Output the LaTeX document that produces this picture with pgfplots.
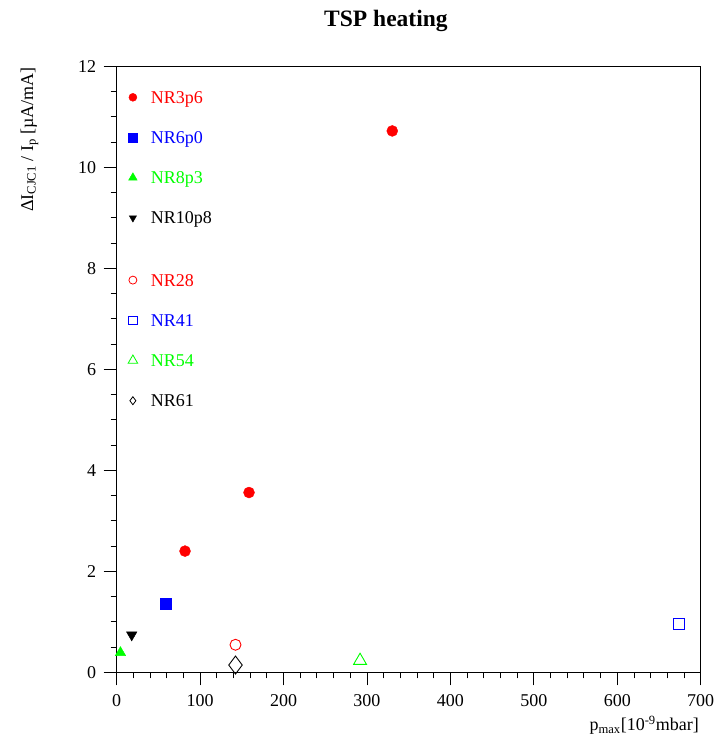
\documentclass[border=0pt]{standalone}
\usepackage{fontspec}
\setmainfont{Liberation Serif}
\usepackage{pgfplots}
\pgfplotsset{compat=1.18}
\definecolor{cred}{RGB}{255,0,0}
\definecolor{cblue}{RGB}{0,0,255}
\definecolor{cgreen}{RGB}{0,255,0}
\newcommand{\fs}{\fontsize{18bp}{21bp}\selectfont}
\pgfplotsset{lgimg/.style={legend image code/.code={\path[draw=none,fill=none] (0bp,-5bp) rectangle (25bp,5bp); \draw[##1] plot coordinates {(9bp,0bp)};}}}
\begin{document}
\begin{tikzpicture}
\path (-116.7bp,-65.7bp) rectangle (599.3bp,672.3bp);
\begin{axis}[
  at={(0,0)}, anchor=south west,
  scale only axis, width=584bp, height=606bp,
  xmin=0, xmax=700, ymin=0, ymax=12,
  xtick={0,100,...,700}, ytick={0,2,...,12},
  minor x tick num=4, minor y tick num=3,
  tick pos=left, tick align=outside,
  major tick length=13bp, minor tick length=6bp,
  every tick/.style={black, line width=0.9bp},
  axis line style={line width=0.9bp},
  /pgf/number format/assume math mode=true,
  ticklabel style={font=\fs},
  yticklabel style={xshift=-4bp},
  xticklabel style={yshift=-6bp},
  every axis title shift=0pt,
  title={\fontsize{23.5bp}{26bp}\selectfont\bfseries TSP heating},
  title style={at={(axis description cs:0.461,1.0653)}, anchor=base, inner sep=0pt},
  xlabel={p\textsubscript{max}[10\textsuperscript{-9}mbar]},
  xlabel style={font=\fs, at={(axis description cs:0.997,-0.096)}, anchor=base east, inner sep=0pt},
  ylabel={ΔI\textsubscript{CJC1} / I\textsubscript{p} [µA/mA]},
  ylabel style={font=\fs, at={(axis description cs:-0.1433,0.9988)}, anchor=base east, inner sep=0pt},
  legend style={draw=none, fill=none, inner sep=0pt, at={(axis description cs:0.012,0.965)}, anchor=north west, font=\fs, row sep=21bp, nodes={text height=15.6bp, text depth=3.6bp, inner ysep=0pt}},
  legend cell align=left,
]
% data
\addplot[forget plot, only marks, mark=*, cred, mark size=5.5bp] coordinates {(81.9,2.40) (158.6,3.56) (330.3,10.72)};
\addplot[forget plot, only marks, mark=square*, cblue, mark size=5.5bp] coordinates {(59.2,1.35)};
\addplot[forget plot, only marks, mark=triangle*, cgreen, mark size=6bp] coordinates {(4.5,0.39)};
\addplot[forget plot, only marks, mark=triangle*, black, mark size=6bp, mark options={rotate=180}] coordinates {(18,0.74)};
\addplot[forget plot, only marks, mark=o, cred, mark size=5.5bp, line width=0.9bp] coordinates {(142.4,0.545)};
\addplot[forget plot, only marks, mark=square, cblue, mark size=5.6bp, line width=0.9bp] coordinates {(674,0.95)};
\addplot[forget plot, only marks, mark=triangle, cgreen, mark size=7.5bp, line width=0.9bp] coordinates {(291.7,0.23)};
\addplot[forget plot, only marks, mark=diamond, black, mark size=9bp, line width=0.9bp] coordinates {(142.4,0.144)};
% legend
\addlegendimage{only marks, mark=*, cred, mark size=4bp, lgimg}
\addlegendentry{\textcolor{cred}{NR3p6}}
\addlegendimage{only marks, mark=square*, cblue, mark size=4.3bp, lgimg}
\addlegendentry{\textcolor{cblue}{NR6p0}}
\addlegendimage{only marks, mark=triangle*, cgreen, mark size=5bp, lgimg}
\addlegendentry{\textcolor{cgreen}{NR8p3}}
\addlegendimage{only marks, mark=triangle*, black, mark size=4.2bp, mark options={rotate=180}, lgimg}
\addlegendentry{NR10p8}
\addlegendimage{empty legend}
\addlegendentry[text height=0bp, text depth=0bp]{}
\addlegendimage{only marks, mark=o, cred, mark size=4bp, line width=0.8bp, lgimg}
\addlegendentry{\textcolor{cred}{NR28}}
\addlegendimage{only marks, mark=square, cblue, mark size=4.2bp, line width=0.8bp, lgimg}
\addlegendentry{\textcolor{cblue}{NR41}}
\addlegendimage{only marks, mark=triangle, cgreen, mark size=5.5bp, line width=0.8bp, lgimg}
\addlegendentry{\textcolor{cgreen}{NR54}}
\addlegendimage{only marks, mark=diamond, black, mark size=4bp, line width=0.8bp, lgimg}
\addlegendentry{NR61}
\end{axis}
\end{tikzpicture}
\end{document}
